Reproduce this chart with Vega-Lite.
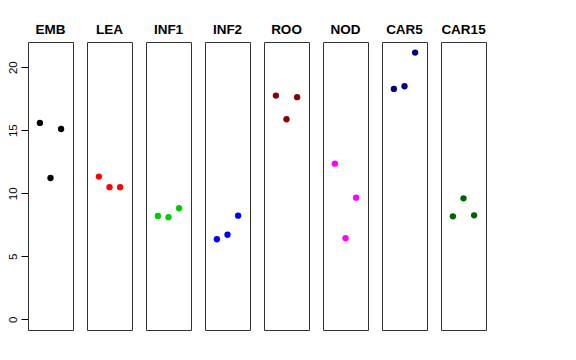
{
  "$schema": "https://vega.github.io/schema/vega-lite/v6.json",
  "padding": {"left": 4, "top": 22, "right": 5, "bottom": 5},
  "bounds": "flush",
  "background": "white",
  "data": {"values": [
    {"g": "EMB", "i": 1, "v": 15.58}, {"g": "EMB", "i": 2, "v": 11.21}, {"g": "EMB", "i": 3, "v": 15.10},
    {"g": "LEA", "i": 1, "v": 11.32}, {"g": "LEA", "i": 2, "v": 10.48}, {"g": "LEA", "i": 3, "v": 10.48},
    {"g": "INF1", "i": 1, "v": 8.20}, {"g": "INF1", "i": 2, "v": 8.10}, {"g": "INF1", "i": 3, "v": 8.81},
    {"g": "INF2", "i": 1, "v": 6.35}, {"g": "INF2", "i": 2, "v": 6.71}, {"g": "INF2", "i": 3, "v": 8.22},
    {"g": "ROO", "i": 1, "v": 17.75}, {"g": "ROO", "i": 2, "v": 15.87}, {"g": "ROO", "i": 3, "v": 17.62},
    {"g": "NOD", "i": 1, "v": 12.35}, {"g": "NOD", "i": 2, "v": 6.43}, {"g": "NOD", "i": 3, "v": 9.65},
    {"g": "CAR5", "i": 1, "v": 18.28}, {"g": "CAR5", "i": 2, "v": 18.49}, {"g": "CAR5", "i": 3, "v": 21.16},
    {"g": "CAR15", "i": 1, "v": 8.17}, {"g": "CAR15", "i": 2, "v": 9.60}, {"g": "CAR15", "i": 3, "v": 8.25}
  ]},
  "facet": {
    "column": {
      "field": "g", "type": "nominal",
      "sort": ["EMB", "LEA", "INF1", "INF2", "ROO", "NOD", "CAR5", "CAR15"],
      "title": null,
      "header": {"labelFont": "Liberation Sans", "labelFontWeight": "bold", "labelFontSize": 13.5, "labelColor": "black", "labelPadding": 6}
    }
  },
  "spacing": 14,
  "spec": {
    "width": 45,
    "height": 288,
    "mark": {"type": "point", "filled": true, "size": 40, "opacity": 1},
    "encoding": {
      "x": {"field": "i", "type": "quantitative", "scale": {"domain": [-0.12, 4.12], "nice": false, "zero": false}, "axis": null},
      "y": {"field": "v", "type": "quantitative", "scale": {"domain": [-0.85, 22.0], "nice": false, "zero": false},
        "axis": {"title": null, "values": [0, 5, 10, 15, 20], "grid": false, "domain": false, "tickSize": 7, "tickColor": "black",
          "labelAngle": 270, "labelAlign": "center", "labelBaseline": "bottom", "labelPadding": 3, "labelFont": "Liberation Sans", "labelFontSize": 11.5, "labelColor": "black", "minExtent": 24, "maxExtent": 24}},
      "color": {"field": "g", "type": "nominal", "legend": null,
        "scale": {"domain": ["EMB", "LEA", "INF1", "INF2", "ROO", "NOD", "CAR5", "CAR15"],
          "range": ["#000000", "#FF0000", "#00CD00", "#0000FF", "#8B0000", "#FF00FF", "#00008B", "#006400"]}}
    }
  },
  "config": {"view": {"stroke": "#333333", "strokeWidth": 1}}
}
